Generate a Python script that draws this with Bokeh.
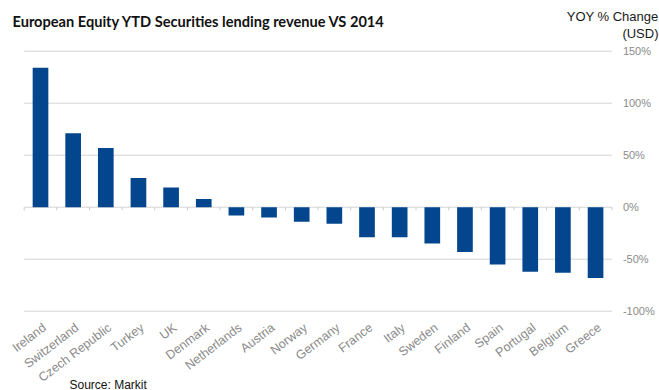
from bokeh.plotting import figure
from bokeh.models import Label, ColumnDataSource, Range1d
from bokeh.core.properties import value
from bokeh.embed import file_html
from bokeh.resources import INLINE

countries = ["Ireland", "Switzerland", "Czech Republic", "Turkey", "UK", "Denmark",
             "Netherlands", "Austria", "Norway", "Germany", "France", "Italy",
             "Sweden", "Finland", "Spain", "Portugal", "Belgium", "Greece"]
yoy_change = [134, 71, 57, 28, 19, 8, -8, -10, -14, -16, -29, -29, -35, -43, -55, -62, -63, -68]
y_ticks = [-100, -50, 0, 50, 100, 150]
y_tick_labels = ["-100%", "-50%", "0%", "50%", "100%", "150%"]

title_text = "European Equity YTD Securities lending revenue VS 2014"
unit_line1 = "YOY % Change"
unit_line2 = "(USD)"
source_text = "Source: Markit"

n = len(countries)
idx = list(range(n))
bars = ColumnDataSource(dict(x=idx, y=yoy_change, name=countries))

W, H = 659, 390
# scale: one category = 32.65 px, first category centre at 40 px; 1% = 1.04 px, 0% at 206.7 px
p = figure(width=W, height=H, output_backend="svg", toolbar_location=None,
           x_range=Range1d(-40 / 32.65, (W - 40) / 32.65),
           y_range=Range1d((206.7 - H) / 1.04, 206.7 / 1.04),
           min_border=0, min_border_left=0, min_border_right=0,
           min_border_top=0, min_border_bottom=0)
p.axis.visible = False
p.grid.visible = False
p.outline_line_color = None
p.background_fill_color = "white"
p.border_fill_color = "white"

# horizontal gridlines at tick values, spanning the category band
p.segment(x0=-0.5, x1=n - 0.5, y0=y_ticks, y1=y_ticks, line_color="#d4d4d4", line_width=1)
# small tick marks between categories on the zero line
bounds = [i - 0.5 for i in range(n + 1)]
p.segment(x0=bounds, x1=bounds, y0=0, y1=-3, line_color="#c8c8c8", line_width=1)

p.vbar(x="x", top="y", bottom=0, width=0.48, source=bars, fill_color="#03468E", line_color=None)

# y tick labels (right side)
p.text(x=n - 0.5, y=y_ticks, text=y_tick_labels, x_offset=11,
       text_font=value("Liberation Sans"), text_font_size="11px", text_color="#8a8a8a",
       text_align="left", text_baseline="middle")

# category labels (rotated, below the plot area)
p.text(x=idx, y=y_ticks[0], text=countries, angle=0.65, x_offset=4, y_offset=15,
       text_font=value("Liberation Sans"), text_font_size="12.5px", text_color="#8a8a8a",
       text_align="right", text_baseline="middle")

p.add_layout(Label(x=12, y=H - 21, x_units="screen", y_units="screen", text=title_text,
                   text_font="Lato", text_font_style="bold", text_font_size="14.6px",
                   text_color="#111111", text_baseline="middle"))
p.add_layout(Label(x=658, y=H - 16, x_units="screen", y_units="screen", text=unit_line1,
                   text_font="Liberation Sans", text_font_size="13px", text_align="right",
                   text_color="#1a1a1a", text_baseline="middle"))
p.add_layout(Label(x=658, y=H - 33, x_units="screen", y_units="screen", text=unit_line2,
                   text_font="Liberation Sans", text_font_size="13px", text_align="right",
                   text_color="#1a1a1a", text_baseline="middle"))
p.add_layout(Label(x=69, y=H - 384, x_units="screen", y_units="screen", text=source_text,
                   text_font="Liberation Sans", text_font_size="12px", text_color="#111111",
                   text_baseline="middle"))

open("out.html", "w").write(file_html(p, INLINE))
